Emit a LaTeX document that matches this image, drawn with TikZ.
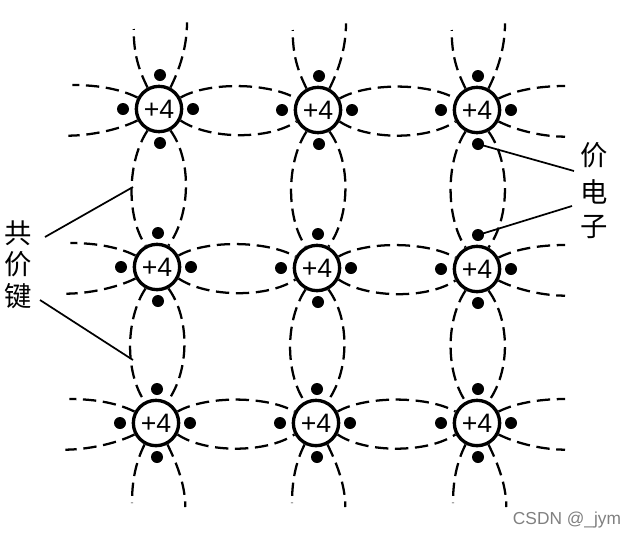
\documentclass[tikz,border=0pt]{standalone}
\usepackage{fontspec}
\setmainfont{Liberation Sans}
\newfontfamily\cjk{Noto Sans CJK SC}
\begin{document}
\begin{tikzpicture}[x=0.75pt,y=-0.75pt,
  atom/.style={circle,draw=black,line width=2.5pt,minimum size=34pt,inner sep=0pt,font=\fontsize{20pt}{20pt}\selectfont},
  elec/.style={circle,fill=black,minimum size=9pt,inner sep=0pt},
  bond/.style={line width=1.7pt,dash pattern=on 10pt off 5pt},
  lead/.style={line width=1.3pt},
  lab/.style={font=\cjk\fontsize{20.5pt}{20pt}\selectfont,inner sep=0pt}]
\useasboundingbox (0,0) rectangle (638,540);
\fill[white] (0,0) rectangle (638,540);
% atoms
\foreach \n/\x/\y in {a11/159/109,a12/318/110,a13/477/110,
                      a21/157/267,a22/317/268,a23/477/269,
                      a31/156/423,a32/316/423,a33/477/423}{
  \node[atom] (\n) at (\x,\y) {+4};
  \node[elec] (\n t) at (\x+1,\y-34) {};
  \node[elec] (\n b) at (\x+1,\y+34) {};
  \node[elec] (\n l) at (\x-36,\y) {};
  \node[elec] (\n r) at (\x+34,\y) {};
}
% horizontal bonds
\foreach \p/\q in {a11/a12,a12/a13,a21/a22,a22/a23,a31/a32,a32/a33}{
  \draw[bond] (\p.28) .. controls +(28,-16) and +(-28,-16) .. (\q.152);
  \draw[bond] (\p.-28) .. controls +(28,19) and +(-28,19) .. (\q.-152);
}
% vertical bonds
\foreach \p/\q in {a11/a21,a12/a22,a13/a23,a21/a31,a22/a32,a23/a33}{
  \draw[bond] (\p.-118) .. controls +(-20,30) and +(-20,-30) .. (\q.118);
  \draw[bond] (\p.-62) .. controls +(22,30) and +(22,-30) .. (\q.62);
}
% free ends
\foreach \n in {a11,a12,a13}{
  \coordinate (\n tl) at ([xshift=-19pt,yshift=60pt]\n.center);
  \coordinate (\n tr) at ([xshift=21pt,yshift=65pt]\n.center);
  \draw[bond] (\n.118) .. controls +(-9,-18) and +(0,25) .. (\n tl);
  \draw[bond] (\n.62) .. controls +(9,-18) and +(0,25) .. (\n tr);
}
\foreach \n in {a31,a32,a33}{
  \coordinate (\n bl) at ([xshift=-18pt,yshift=-60pt]\n.center);
  \coordinate (\n br) at ([xshift=22pt,yshift=-63pt]\n.center);
  \draw[bond] (\n.-118) .. controls +(-9,18) and +(0,-22) .. (\n bl);
  \draw[bond] (\n.-62) .. controls +(9,18) and +(0,-22) .. (\n br);
}
\foreach \n in {a11,a21,a31}{
  \coordinate (\n lu) at ([xshift=-65pt,yshift=18pt]\n.center);
  \coordinate (\n ld) at ([xshift=-68pt,yshift=-20pt]\n.center);
  \draw[bond] (\n.152) .. controls +(-20,-10) and +(20,0) .. (\n lu);
  \draw[bond] (\n.-152) .. controls +(-20,10) and +(20,0) .. (\n ld);
}
\foreach \n in {a13,a23,a33}{
  \coordinate (\n ru) at ([xshift=66pt,yshift=18pt]\n.center);
  \coordinate (\n rd) at ([xshift=66pt,yshift=-20pt]\n.center);
  \draw[bond] (\n.28) .. controls +(20,-10) and +(-20,0) .. (\n ru);
  \draw[bond] (\n.-28) .. controls +(20,10) and +(-20,0) .. (\n rd);
}
% labels
\node[lab] (ld1) at (594,155) {价};
\node[lab] (ld2) at (594,192) {电};
\node[lab] (ld3) at (594,227) {子};
\node[lab] (ll1) at (18,233) {共};
\node[lab] (ll2) at (18,264) {价};
\node[lab] (ll3) at (18,296) {键};
% leaders
\coordinate (b1) at (133,187);
\coordinate (b2) at (133,360);
\coordinate (e1) at (45,237);
\coordinate (e2) at (40,300);
\coordinate (e3) at (574,171);
\coordinate (e4) at (572,206);
\draw[lead] (e1) -- (b1);
\draw[lead] (e2) -- (b2);
\draw[lead] (a13b.center) -- (e3);
\draw[lead] (a23t.center) -- (e4);
\node[text=black!50,font=\fontsize{13pt}{13pt}\selectfont,inner sep=0pt] (wm) at (567,520) {CSDN @\_jym};
\end{tikzpicture}
\end{document}
